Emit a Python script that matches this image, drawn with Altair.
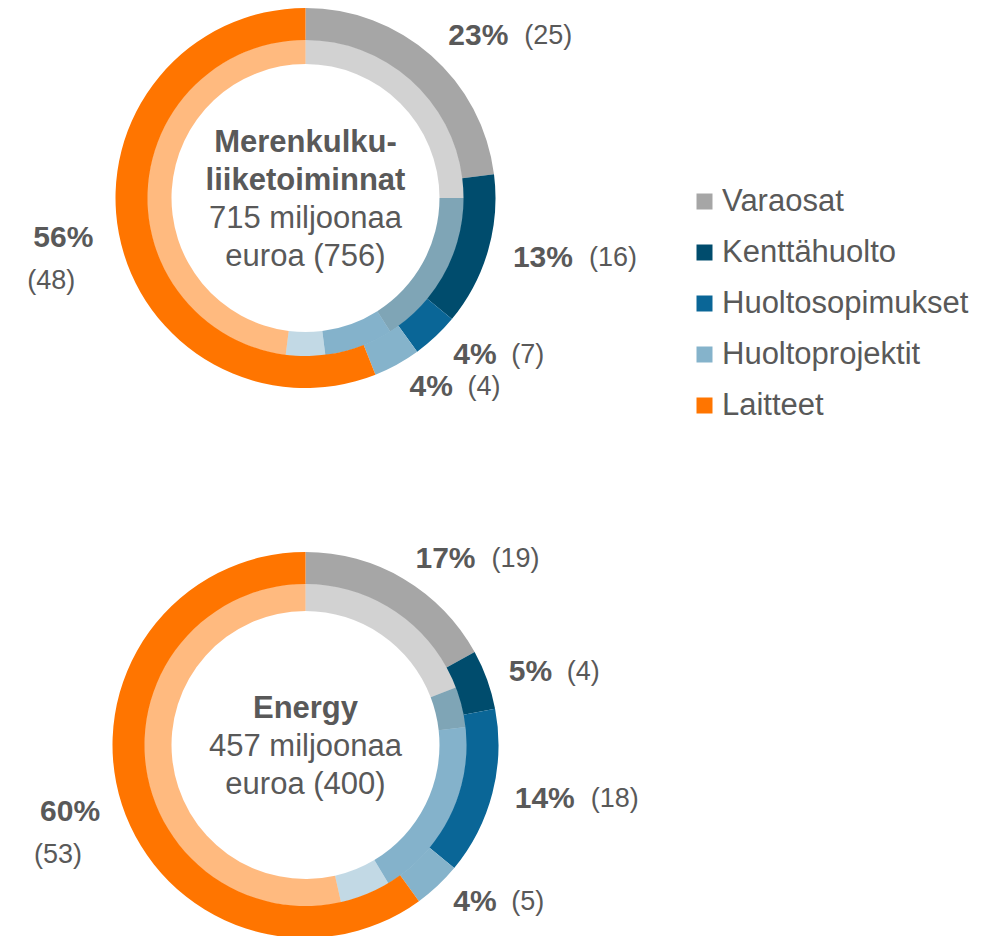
import altair as alt
import pandas as pd

# ---- data ----
categories = ["Varaosat", "Kenttähuolto", "Huoltosopimukset", "Huoltoprojektit", "Laitteet"]
colors = ["#A6A6A6", "#004C6D", "#0A6697", "#85B3CB", "#FF7500"]

segment_titles = [["Merenkulku-", "liiketoiminnat"], ["Energy"]]
sales_now = [715, 457]
sales_prev = [756, 400]

marine_now = [23, 13, 4, 4, 56]
marine_prev = [25, 16, 7, 4, 48]
energy_now = [17, 5, 14, 4, 60]
energy_prev = [19, 4, 18, 5, 53]

shares_now = [marine_now, energy_now]
shares_prev = [marine_prev, energy_prev]

# ---- styling ----
FONT = "Liberation Sans, Arial, sans-serif"
TEXT = "#595959"
RINGS = [(190, 158, 134), (193, 161, 134)]  # outer, split, inner radius
LABEL_R = 216
LINE_H = 38
W, H = 595, 380

legend = alt.Legend(
    title=None, orient="none", legendX=681, legendY=178,
    symbolType="square", symbolSize=256, symbolStrokeWidth=0, symbolOpacity=1,
    labelFont=FONT, labelFontSize=31, labelColor=TEXT, labelOffset=2,
    rowPadding=19, padding=0, labelLimit=500,
)
color = alt.Color("cat:N", scale=alt.Scale(domain=categories, range=colors),
                  sort=categories, legend=legend)
order = alt.Order("idx:Q", sort="ascending")


def donut(i):
    df = pd.DataFrame({
        "cat": categories,
        "idx": list(range(len(categories))),
        "now": shares_now[i],
        "prev": shares_prev[i],
    })
    r_out, r_split, r_in = RINGS[i]
    base = alt.Chart(df).transform_joinaggregate(
        tot_now="sum(now)", tot_prev="sum(prev)"
    ).transform_calculate(
        f_now="datum.now / datum.tot_now",
        f_prev="datum.prev / datum.tot_prev",
    )
    inner = base.mark_arc(radius=r_split + 0.5, radius2=r_in, opacity=0.5).encode(
        theta=alt.Theta("f_prev:Q", stack=True), color=color, order=order)
    outer = base.mark_arc(radius=r_out, radius2=r_split).encode(
        theta=alt.Theta("f_now:Q", stack=True), color=color, order=order)

    lab = base.transform_window(
        cum="sum(now)", sort=[alt.SortField("idx")], frame=[None, 0]
    ).transform_calculate(
        mid="(datum.cum - datum.now / 2) / datum.tot_now",
    ).transform_calculate(
        side="datum.mid > 0.5 ? 'L' : 'R'",
        cls="datum.mid > 0.5 ? 'L' : (datum.now >= 10 ? 'R2' : 'R1')",
        bold="datum.now + '%'",
        reg="'(' + datum.prev + ')'",
    )

    def label(expr, align, dx, dy, is_bold):
        return lab.transform_calculate(t=expr).mark_text(
            radius=LABEL_R, align=align, baseline="middle", dx=dx, dy=dy,
            font=FONT, fontSize=30 if is_bold else 27,
            fontWeight="bold" if is_bold else "normal", color=TEXT,
        ).encode(
            theta=alt.Theta("f_now:Q", stack=True), order=order,
            detail="cat:N", text="t:N",
        )

    labels = [
        label("datum.side == 'R' ? datum.bold : ''", "left", 0, 0, True),
        label("datum.side == 'L' ? datum.bold : ''", "right", 0, 0, True),
        label("datum.cls == 'R2' ? datum.reg : ''", "left", 76, 0, False),
        label("datum.cls == 'R1' ? datum.reg : ''", "left", 58, 0, False),
        label("datum.cls == 'L' ? datum.reg : ''", "right", -18, 43, False),
    ]

    lines = segment_titles[i] + [f"{sales_now[i]} miljoonaa", f"euroa ({sales_prev[i]})"]
    n = len(lines)
    center = []
    for k, line in enumerate(lines):
        center.append(
            base.transform_filter("datum.idx == 0").mark_text(
                align="center", baseline="alphabetic",
                dy=(k - (n - 1) / 2) * LINE_H + 11,
                font=FONT, fontSize=31,
                fontWeight="bold" if k < len(segment_titles[i]) else "normal",
                color=TEXT,
            ).encode(text=alt.value(line))
        )

    return alt.layer(inner, outer, *labels, *center).properties(width=W, height=H)


chart = alt.vconcat(donut(0), donut(1), spacing=167, bounds="flush").properties(
    padding=0, background="white"
).configure_view(stroke=None).configure(font=FONT)

chart.save("out.html", embed_options={"renderer": "svg", "actions": False})
